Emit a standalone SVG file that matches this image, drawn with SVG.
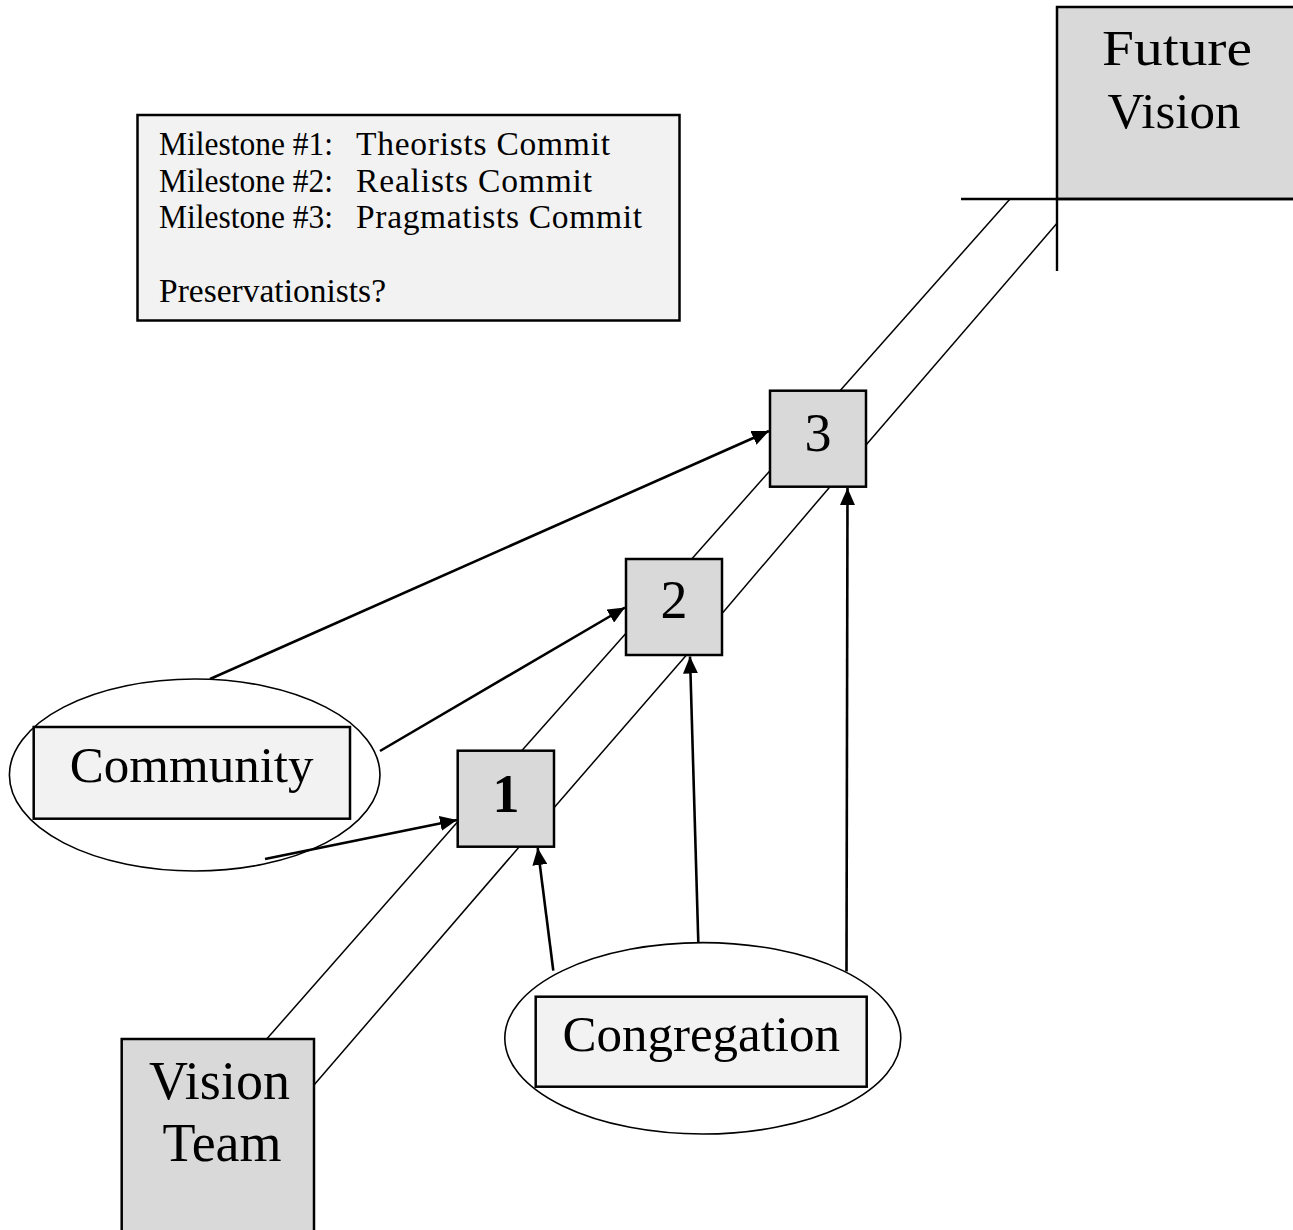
<svg xmlns="http://www.w3.org/2000/svg" width="1293" height="1230" viewBox="0 0 1293 1230">
  <style>
    .label { font-family: "Liberation Serif", "Times New Roman", serif; fill: #000; }
    .box { fill: #d9d9d9; stroke: #000; stroke-width: 2.5; }
    .inner { fill: #f2f2f2; stroke: #000; stroke-width: 2.5; }
    .oval { fill: none; stroke: #000; stroke-width: 1.6; }
    .rail { stroke: #000; stroke-width: 1.5; fill: none; }
    .arrow { stroke: #000; stroke-width: 2.6; fill: none; marker-end: url(#head); }
    .axis { stroke: #000; stroke-width: 2.4; }
  </style>
  <defs>
    <marker id="head" viewBox="0 0 17 15" refX="17" refY="7.5" markerWidth="17" markerHeight="15" markerUnits="userSpaceOnUse" orient="auto">
      <path d="M0,0 L17,7.5 L0,15 z" fill="#000"/>
    </marker>
  </defs>

  <rect width="1293" height="1230" fill="#fff"/>

  <!-- milestone legend -->
  <g id="legend">
    <rect x="137.5" y="115" width="542" height="205.5" class="inner"/>
    <text class="label" font-size="33.5" y="155"><tspan x="159" textLength="174" lengthAdjust="spacingAndGlyphs">Milestone #1:</tspan><tspan x="356" textLength="254">Theorists Commit</tspan></text>
    <text class="label" font-size="33.5" y="192"><tspan x="159" textLength="174" lengthAdjust="spacingAndGlyphs">Milestone #2:</tspan><tspan x="356" textLength="236">Realists Commit</tspan></text>
    <text class="label" font-size="33.5" y="228"><tspan x="159" textLength="174" lengthAdjust="spacingAndGlyphs">Milestone #3:</tspan><tspan x="356" textLength="286">Pragmatists Commit</tspan></text>
    <text class="label" font-size="33.5" x="159" y="302">Preservationists?</text>
  </g>

  <!-- paired rails and arrows -->
  <g id="connectors">
    <line class="rail" x1="266.7" y1="1039" x2="457.7" y2="821.7"/>
    <line class="rail" x1="521.7" y1="750.7" x2="626" y2="633.3"/>
    <line class="rail" x1="691.7" y1="559" x2="770" y2="470.7"/>
    <line class="rail" x1="840" y1="390.7" x2="1010" y2="199"/>

    <line class="rail" x1="314" y1="1085" x2="519.3" y2="846.7"/>
    <line class="rail" x1="554" y1="807.7" x2="686.5" y2="655"/>
    <line class="rail" x1="722.7" y1="612.7" x2="830" y2="486.7"/>
    <line class="rail" x1="866" y1="445" x2="1057" y2="223.3"/>

    <line class="arrow" x1="210" y1="679" x2="769" y2="431"/>
    <line class="arrow" x1="380" y1="751" x2="625" y2="607.5"/>
    <line class="arrow" x1="265" y1="859" x2="457" y2="820"/>
    <line class="arrow" x1="553.3" y1="970.7" x2="537.7" y2="848"/>
    <line class="arrow" x1="698.3" y1="942" x2="690" y2="656.5"/>
    <line class="arrow" x1="846.5" y1="971.5" x2="847.5" y2="488"/>
  </g>

  <!-- goal -->
  <g id="future-vision">
    <rect x="1057" y="7" width="260" height="192" class="box"/>
    <line class="axis" x1="961" y1="199" x2="1293" y2="199"/>
    <line class="axis" x1="1057" y1="199" x2="1057" y2="271"/>
    <text class="label" font-size="51" x="1102" y="65" textLength="150" lengthAdjust="spacingAndGlyphs">Future</text>
    <text class="label" font-size="51" x="1174" y="128" text-anchor="middle">Vision</text>
  </g>

  <!-- starting point -->
  <g id="vision-team">
    <rect x="121.7" y="1039" width="192.3" height="220" class="box"/>
    <text class="label" font-size="54" x="219.5" y="1099" text-anchor="middle">Vision</text>
    <text class="label" font-size="54" x="222" y="1161" text-anchor="middle">Team</text>
  </g>

  <!-- milestones -->
  <g id="milestone-1">
    <rect x="457.7" y="750.7" width="96.3" height="96" class="box"/>
    <text class="label" font-size="54" font-weight="bold" x="506" y="811.7" text-anchor="middle">1</text>
  </g>
  <g id="milestone-2">
    <rect x="626" y="559" width="96" height="96" class="box"/>
    <text class="label" font-size="54" x="674" y="618.3" text-anchor="middle">2</text>
  </g>
  <g id="milestone-3">
    <rect x="770" y="390.7" width="96" height="96" class="box"/>
    <text class="label" font-size="54" x="818" y="451" text-anchor="middle">3</text>
  </g>

  <!-- stakeholder groups -->
  <g id="community">
    <ellipse cx="194.7" cy="775" rx="185.3" ry="96" class="oval"/>
    <rect x="33.7" y="727" width="316.3" height="91.7" class="inner"/>
    <text class="label" font-size="51" x="191.7" y="782.3" text-anchor="middle">Community</text>
  </g>
  <g id="congregation">
    <ellipse cx="702.8" cy="1038.3" rx="198" ry="95.7" class="oval"/>
    <rect x="535.7" y="996.7" width="331" height="90" class="inner"/>
    <text class="label" font-size="51" x="701.2" y="1050.7" text-anchor="middle">Congregation</text>
  </g>
</svg>
